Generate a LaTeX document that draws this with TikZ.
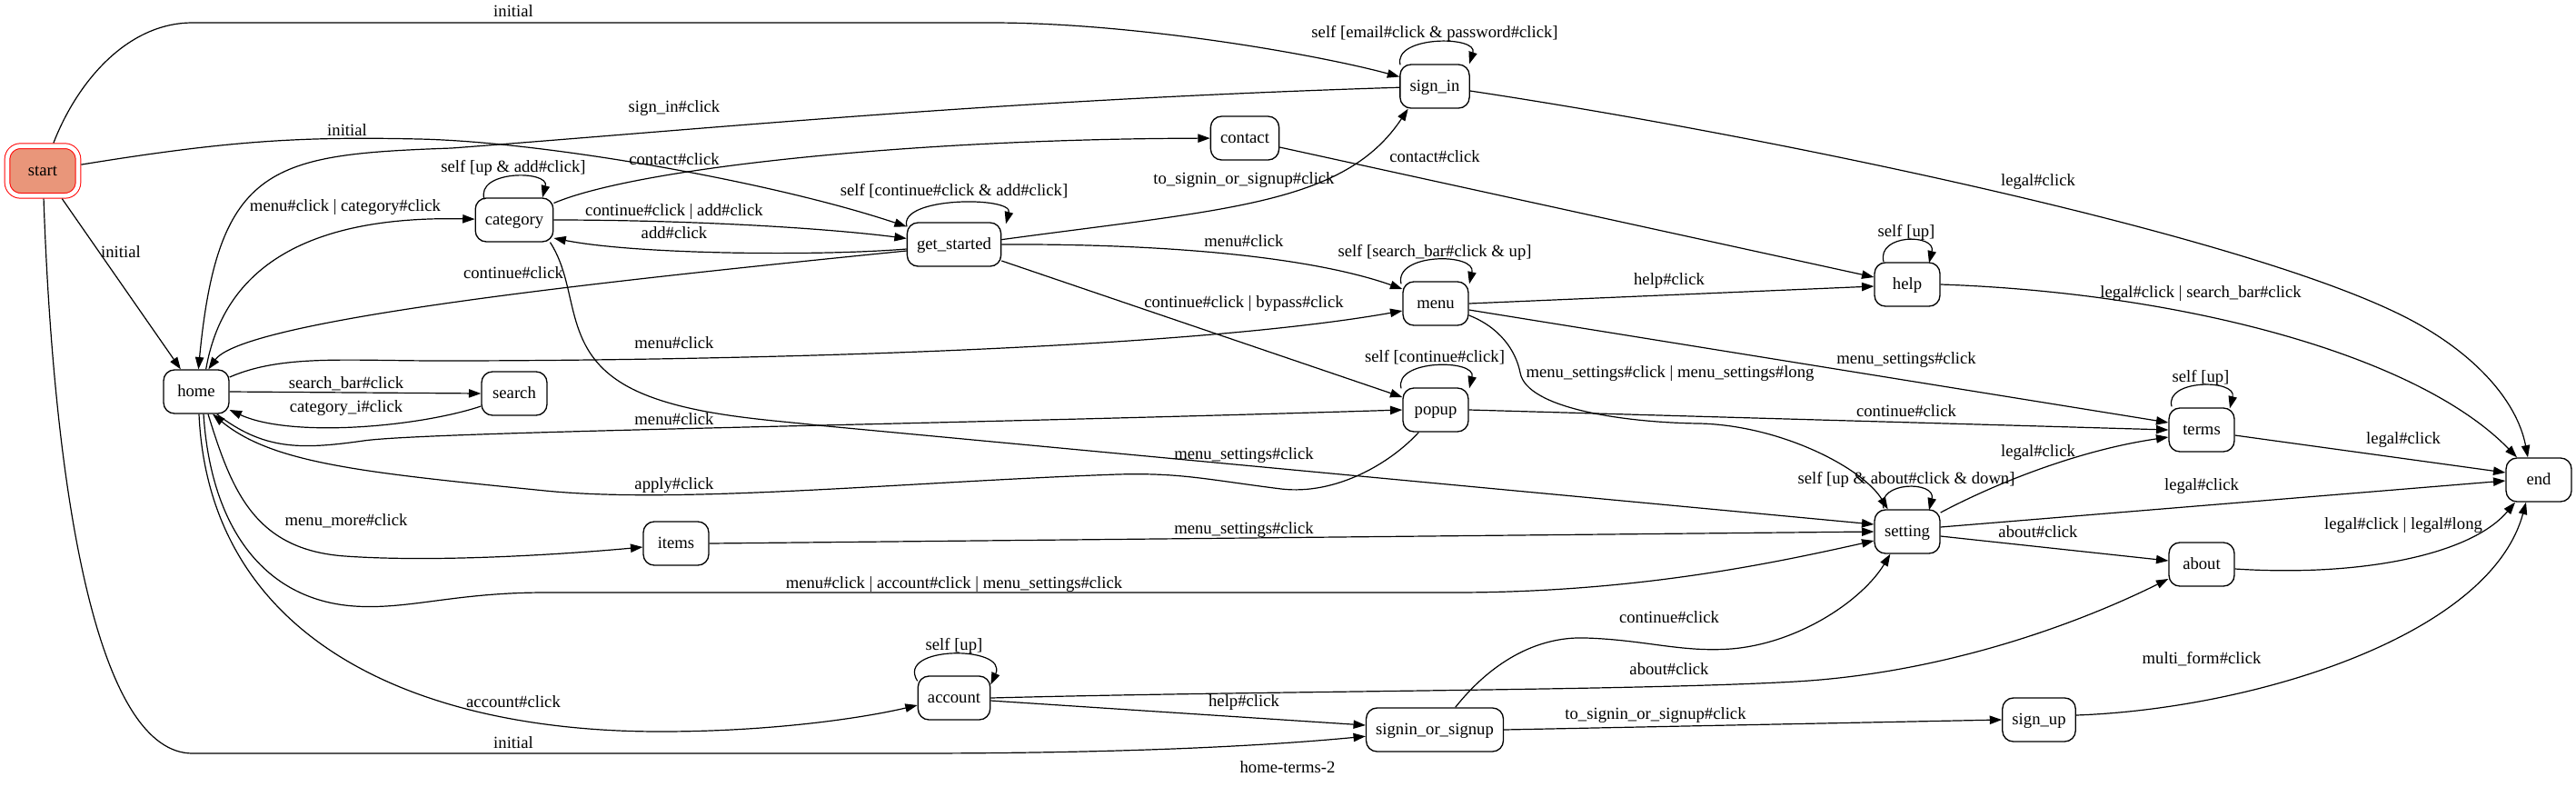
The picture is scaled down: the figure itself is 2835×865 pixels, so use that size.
\documentclass[tikz,border=0pt]{standalone}
\usepackage{fontspec}
\setmainfont{Liberation Serif}
\usetikzlibrary{arrows.meta}
\definecolor{startfill}{HTML}{E9967A}
\begin{document}
\begin{tikzpicture}[x=0.75pt,y=-0.75pt,
  font=\fontsize{14pt}{16pt}\selectfont,
  st/.style={draw, line width=1pt, rounded corners=9pt, minimum width=54pt, minimum height=36pt, inner xsep=8pt, inner ysep=0pt, text height=10pt, text depth=2pt},
  startst/.style={draw=red, double=white, double distance=3.5pt, line width=0.75pt, fill=startfill, rounded corners=11pt, minimum width=58.5pt, minimum height=41pt, outer sep=2.5pt, inner xsep=8pt, inner ysep=0pt, text height=10pt, text depth=2pt},
  lbl/.style={inner sep=0pt, text height=10pt, text depth=2pt},
  arr/.style={draw, line width=0.9pt, -{Triangle[length=10pt,width=7pt]}},
]
\useasboundingbox (0,0) rectangle (2835,865);

% states
\node[startst] (start) at (47,188) {start};
\node[st] (signin) at (1579,95) {sign\_in};
\node[st] (home) at (216,431) {home};
\node[st] (search) at (566,433) {search};
\node[st] (category) at (566,242) {category};
\node[st] (items) at (744,598) {items};
\node[st] (account) at (1050,768) {account};
\node[st] (sos) at (1579,803) {signin\_or\_signup};
\node[st] (popup) at (1580,451) {popup};
\node[st] (gs) at (1050,269) {get\_started};
\node[st] (contact) at (1370,152) {contact};
\node[st] (menu) at (1580,334) {menu};
\node[st] (help) at (2099,313) {help};
\node[st] (terms) at (2423,473) {terms};
\node[st] (setting) at (2099,585) {setting};
\node[st] (about) at (2423,621) {about};
\node[st] (endn) at (2794,528) {end};
\node[st] (signup) at (2244,792) {sign\_up};

% edges from start
\draw[arr] (start) .. controls (85,90) and (140,25) .. (212,25) -- (1091,25) .. controls (1250,25) and (1450,60) .. (signin);
\node[lbl] (l1) at (565,13) {initial};
\draw[arr] (start) .. controls (250,155) and (330,150) .. (461,153) .. controls (600,156) and (850,200) .. ([yshift=-3.75pt]gs.north west);
\node[lbl] (l2) at (382,144) {initial};
\draw[arr] (start) -- (home);
\node[lbl] (l3) at (133,278) {initial};
\draw[arr] (start) .. controls (60,560) and (110,829) .. (212,829) -- (1000,829) .. controls (1250,829) and (1400,820) .. (sos);
\node[lbl] (l4) at (565,818) {initial};

% sign_in -> home
\draw[arr] (signin) .. controls (1100,110) and (800,140) .. (497,163) .. controls (300,170) and (240,180) .. (home);
\node[lbl] (l5) at (742,118) {sign\_in\#click};

% home -> category
\draw[arr] ([xshift=8pt]home.north) .. controls (245,300) and (330,237) .. (category);
\node[lbl] (l6) at (380,227) {menu\#click | category\#click};

% category loop
\draw[arr] ([xshift=-24.75pt,yshift=-1.5pt]category.north) .. controls (523,187) and (605,187) .. ([xshift=23.25pt]category.north);
\node[lbl] (l7) at (565,184) {self [up \& add\#click]};

% category -> contact
\draw[arr] (category) .. controls (700,185) and (1000,153) .. (contact);
\node[lbl] (l8) at (742,176) {contact\#click};

% category -> get_started
\draw[arr] (category) .. controls (750,242) and (900,250) .. (gs);
\node[lbl] (l9) at (742,232) {continue\#click | add\#click};

% get_started -> category
\draw[arr] ([yshift=-3.75pt]gs.west) .. controls (900,282) and (700,280) .. ([yshift=-15pt]category.east);
\node[lbl] (l10) at (742,257) {add\#click};

% get_started -> home
\draw[arr] ([yshift=-5.25pt]gs.west) .. controls (700,306) and (270,350) .. ([xshift=10pt]home.north);
\node[lbl] (l11) at (565,301) {continue\#click};

% category -> setting
\draw[arr] ([xshift=-3pt]category.south east) .. controls (640,320) and (615,390) .. (700,430) .. controls (760,458) and (850,462) .. (900,468) -- ([yshift=6pt]setting.west);
\node[lbl] (l12) at (1369,500) {menu\_settings\#click};

% get_started loop
\draw[arr] ([xshift=-39pt,yshift=-3.75pt]gs.north) .. controls (988,216) and (1115,216) .. ([xshift=42.75pt,yshift=-1.5pt]gs.north);
\node[lbl] (l13) at (1050,210) {self [continue\#click \& add\#click]};

% get_started -> sign_in
\draw[arr] ([yshift=4pt]gs.east) .. controls (1350,230) and (1480,225) .. ([xshift=-22pt]signin.south);
\node[lbl] (l14) at (1369,197) {to\_signin\_or\_signup\#click};

% get_started -> menu
\draw[arr] (gs.east) .. controls (1300,268) and (1450,285) .. ([yshift=12pt]menu.west);
\node[lbl] (l15) at (1369,266) {menu\#click};

% get_started -> popup
\draw[arr] ([yshift=-13.5pt]gs.east) -- ([yshift=10.5pt]popup.west);
\node[lbl] (l16) at (1369,333) {continue\#click | bypass\#click};

% contact -> help
\draw[arr] ([yshift=-7.5pt]contact.east) -- ([yshift=6pt]help.west);
\node[lbl] (l17) at (1579,173) {contact\#click};

% sign_in -> end
\draw[arr] ([yshift=-3.75pt]signin.east) .. controls (1950,150) and (2450,255) .. (2635,343) .. controls (2720,383) and (2770,440) .. ([xshift=-9pt]endn.north);
\node[lbl] (l18) at (2243,199) {legal\#click};

% sign_in loop
\draw[arr] ([xshift=-28.5pt,yshift=-0.75pt]signin.north) .. controls (1533,39) and (1627,39) .. ([xshift=28.5pt]signin.north);
\node[lbl] (l19) at (1579,36) {self [email\#click \& password\#click]};

% menu loop
\draw[arr] ([xshift=-28.5pt,yshift=-2.25pt]menu.north) .. controls (1534,278) and (1625,278) .. ([xshift=27.75pt,yshift=-2.25pt]menu.north);
\node[lbl] (l20) at (1579,277) {self [search\_bar\#click \& up]};

% menu -> help
\draw[arr] (menu.east) -- ([yshift=-1.5pt]help.west);
\node[lbl] (l21) at (1837,308) {help\#click};

% menu -> terms
\draw[arr] ([yshift=-5.25pt]menu.east) -- ([yshift=6pt]terms.west);
\node[lbl] (l22) at (2098,395) {menu\_settings\#click};

% menu -> setting
\draw[arr] ([yshift=-9.75pt]menu.east) .. controls (1650,360) and (1668,385) .. (1673,410) .. controls (1680,450) and (1790,465) .. (1870,466) .. controls (1960,468) and (2050,515) .. ([xshift=-16pt]setting.north);
\node[lbl] (l23) at (1838,410) {menu\_settings\#click | menu\_settings\#long};

% help loop
\draw[arr] ([xshift=-19.5pt]help.north) .. controls (2065,257) and (2131,257) .. ([xshift=18pt,yshift=-0.75pt]help.north);
\node[lbl] (l24) at (2098,255) {self [up]};

% help -> end
\draw[arr] (help.east) .. controls (2400,322) and (2660,390) .. ([xshift=-18pt]endn.north);
\node[lbl] (l25) at (2422,322) {legal\#click | search\_bar\#click};

% home -> menu
\draw[arr] ([yshift=12pt]home.east) .. controls (310,390) and (380,397) .. (485,397) .. controls (800,397) and (1300,385) .. ([yshift=-6pt]menu.west);
\node[lbl] (l26) at (742,378) {menu\#click};

% home -> search
\draw[arr] (home.east) -- (search.west);
\node[lbl] (l27) at (381,422) {search\_bar\#click};

% search -> home
\draw[arr] ([yshift=-10.5pt]search.west) .. controls (460,470) and (320,482) .. ([yshift=-15pt]home.east);
\node[lbl] (l28) at (381,448) {category\_i\#click};

% home -> popup
\draw[arr] ([xshift=17pt]home.south) .. controls (290,495) and (330,495) .. (400,485) .. controls (470,475) and (1000,468) .. (popup.west);
\node[lbl] (l29) at (742,462) {menu\#click};

% popup -> home
\draw[arr] ([xshift=-14pt]popup.south) .. controls (1530,510) and (1470,545) .. (1410,538) .. controls (1330,528) and (1300,520) .. (1230,522) .. controls (1000,530) and (750,555) .. (600,540) .. controls (400,520) and (300,510) .. ([xshift=13.5pt]home.south);
\node[lbl] (l30) at (742,533) {apply\#click};

% popup loop
\draw[arr] ([xshift=-28.5pt,yshift=-0.75pt]popup.north) .. controls (1534,395) and (1625,395) .. ([xshift=27.75pt,yshift=-0.75pt]popup.north);
\node[lbl] (l31) at (1579,393) {self [continue\#click]};

% popup -> terms
\draw[arr] (popup.east) -- (terms.west);
\node[lbl] (l32) at (2098,453) {continue\#click};

% home -> items
\draw[arr] ([xshift=9.75pt]home.south) .. controls (255,540) and (280,605) .. (380,612) .. controls (480,619) and (620,610) .. ([yshift=-3pt]items.west);
\node[lbl] (l33) at (381,573) {menu\_more\#click};

% items -> setting
\draw[arr] (items.east) -- (setting.west);
\node[lbl] (l34) at (1369,582) {menu\_settings\#click};

% home -> setting
\draw[arr] ([xshift=6pt]home.south) .. controls (232,580) and (290,660) .. (390,667) .. controls (450,671) and (500,652) .. (600,652) -- (1600,652) .. controls (1800,652) and (1950,620) .. ([yshift=-7.5pt]setting.west);
\node[lbl] (l35) at (1050,642) {menu\#click | account\#click | menu\_settings\#click};

% home -> account
\draw[arr] ([xshift=2.25pt]home.south) .. controls (230,700) and (450,805) .. (727,805) .. controls (850,805) and (950,790) .. ([yshift=-6pt]account.west);
\node[lbl] (l36) at (565,773) {account\#click};

% account loop
\draw[arr] ([yshift=-4.5pt]account.north west) .. controls (985,710) and (1110,710) .. ([yshift=-7.5pt]account.north east);
\node[lbl] (l37) at (1050,710) {self [up]};

% account -> about
\draw[arr] (account.east) .. controls (1400,760) and (1800,760) .. (1976,750) .. controls (2150,740) and (2300,680) .. ([yshift=-12pt]about.west);
\node[lbl] (l38) at (1837,737) {about\#click};

% account -> signin_or_signup
\draw[arr] ([yshift=-2.25pt]account.east) -- ([yshift=3.75pt]sos.west);
\node[lbl] (l39) at (1369,772) {help\#click};

% signin_or_signup -> setting
\draw[arr] ([xshift=17pt]sos.north) .. controls (1640,730) and (1690,700) .. (1745,702) .. controls (1810,704) and (1850,718) .. (1905,714) .. controls (1980,708) and (2050,660) .. ([xshift=-14pt]setting.south);
\node[lbl] (l40) at (1837,680) {continue\#click};

% signin_or_signup -> sign_up
\draw[arr] (sos.east) -- (signup.west);
\node[lbl] (l41) at (1822,786) {to\_signin\_or\_signup\#click};

% sign_up -> end
\draw[arr] ([yshift=3.75pt]signup.east) .. controls (2480,780) and (2740,700) .. ([xshift=-10.5pt]endn.south);
\node[lbl] (l42) at (2423,725) {multi\_form\#click};

% terms loop
\draw[arr] ([xshift=-24.75pt,yshift=0.75pt]terms.north) .. controls (2382,417) and (2462,417) .. ([xshift=23.25pt,yshift=-0.75pt]terms.north);
\node[lbl] (l43) at (2422,415) {self [up]};

% terms -> end
\draw[arr] ([yshift=-4.5pt]terms.east) -- ([yshift=6pt]endn.west);
\node[lbl] (l44) at (2645,483) {legal\#click};

% setting loop
\draw[arr] ([xshift=-19.5pt,yshift=0.75pt]setting.north) .. controls (2065,529) and (2131,529) .. ([xshift=18pt,yshift=-0.75pt]setting.north);
\node[lbl] (l45) at (2098,527) {self [up \& about\#click \& down]};

% setting -> terms
\draw[arr] ([yshift=15.75pt]setting.east) .. controls (2200,530) and (2290,495) .. ([yshift=-6pt]terms.west);
\node[lbl] (l46) at (2243,497) {legal\#click};

% setting -> end
\draw[arr] ([yshift=3.75pt]setting.east) -- ([yshift=-0.75pt]endn.west);
\node[lbl] (l47) at (2423,534) {legal\#click};

% setting -> about
\draw[arr] ([yshift=-3.75pt]setting.east) -- ([yshift=3pt]about.west);
\node[lbl] (l48) at (2243,586) {about\#click};

% about -> end
\draw[arr] ([yshift=-3.75pt]about.east) .. controls (2600,635) and (2720,610) .. ([xshift=-19.5pt]endn.south);
\node[lbl] (l49) at (2645,577) {legal\#click | legal\#long};

% title
\node[lbl] (title) at (1417,845) {home-terms-2};
\end{tikzpicture}
\end{document}
